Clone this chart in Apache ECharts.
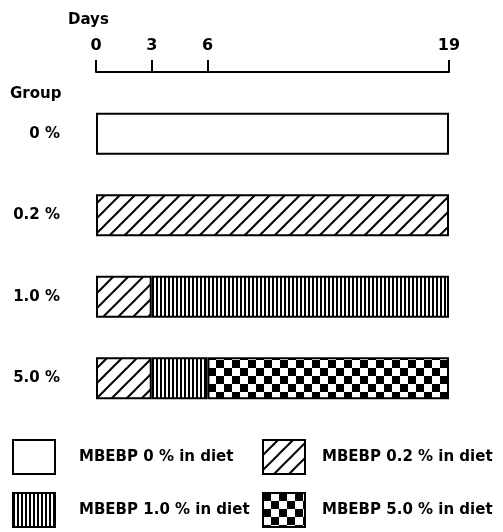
<!DOCTYPE html>
<html>
<head>
<meta charset="utf-8">
<script src="https://cdn.jsdelivr.net/npm/echarts@6/dist/echarts.min.js"></script>
<style>
html, body { margin: 0; background: #fff; }
#chart { width: 503px; height: 532px; }
</style>
</head>
<body>
<div id="chart"></div>
<script>
var groups = ['0 %', '0.2 %', '1.0 %', '5.0 %'];
var dayTicks = [0, 3, 6, 19];
// days on each diet per group, stacked left to right
var diet0 = [19, null, null, null];
var diet02 = [null, 19, 3, 3];
var diet10 = [null, null, 16, 3];
var diet50 = [null, null, null, 13];
var dietNames = ['MBEBP 0 % in diet', 'MBEBP 0.2 % in diet', 'MBEBP 1.0 % in diet', 'MBEBP 5.0 % in diet'];

var ink = '#000';
var font = 'DejaVu Sans';

function tile(w, h, draw) {
    var c = document.createElement('canvas');
    c.width = w;
    c.height = h;
    var ctx = c.getContext('2d');
    ctx.fillStyle = '#fff';
    ctx.fillRect(0, 0, w, h);
    ctx.fillStyle = ink;
    ctx.strokeStyle = ink;
    draw(ctx);
    return { image: c, repeat: 'repeat' };
}

// diagonal hatch  ////
var hatch = tile(15, 15, function(ctx) {
    ctx.lineWidth = 2;
    for (var k = 0; k <= 2; k++) {
        ctx.beginPath();
        ctx.moveTo(-5, 15 * k + 5);
        ctx.lineTo(20, 15 * k - 20);
        ctx.stroke();
    }
});
// vertical lines
var vlines = tile(4, 4, function(ctx) {
    ctx.fillRect(0, 0, 2, 4);
});
// checkerboard
var checker = tile(16, 16, function(ctx) {
    ctx.fillRect(0, 0, 8, 8);
    ctx.fillRect(8, 8, 8, 8);
});

var textBase = { fontFamily: font, fontSize: 15, fontWeight: 'bold', color: ink };

function barSeries(name, data, color) {
    return {
        name: name,
        type: 'bar',
        stack: 'days',
        barWidth: 42,
        data: data,
        silent: true,
        itemStyle: { color: color, borderColor: ink, borderWidth: 2 },
        emphasis: { disabled: true }
    };
}

var chart = echarts.init(document.getElementById('chart'));
chart.setOption({
    animation: false,
    backgroundColor: '#fff',
    title: [
        { text: 'Days', left: 68, top: 13, padding: 0, textStyle: textBase },
        { text: 'Group', left: 10, top: 87, padding: 0, textStyle: textBase }
    ],
    grid: { left: 96, right: 54, top: 93, bottom: 113 },
    xAxis: {
        type: 'value',
        position: 'top',
        min: 0,
        max: 19,
        offset: 21,
        splitLine: { show: false },
        axisLine: { show: true, lineStyle: { color: ink, width: 2 } },
        axisTick: { show: true, customValues: dayTicks, length: 12, lineStyle: { color: ink, width: 2 } },
        axisLabel: Object.assign({}, textBase, { customValues: dayTicks, margin: 18, fontSize: 16 })
    },
    yAxis: {
        type: 'category',
        data: groups,
        inverse: true,
        axisLine: { show: false },
        axisTick: { show: false },
        axisLabel: Object.assign({ margin: 36 }, textBase)
    },
    legend: [
        {
            orient: 'vertical', left: 12, top: 439, padding: 0,
            itemWidth: 42, itemHeight: 34, itemGap: 17,
            icon: 'rect', selectedMode: false,
            data: [dietNames[0], dietNames[2]],
            itemStyle: { borderColor: ink, borderWidth: 2 },
            textStyle: Object.assign({ padding: [0, 0, 0, 19] }, textBase)
        },
        {
            orient: 'vertical', left: 262, top: 439, padding: 0,
            itemWidth: 42, itemHeight: 34, itemGap: 17,
            icon: 'rect', selectedMode: false,
            data: [dietNames[1], dietNames[3]],
            itemStyle: { borderColor: ink, borderWidth: 2 },
            textStyle: Object.assign({ padding: [0, 0, 0, 12] }, textBase)
        }
    ],
    series: [
        barSeries(dietNames[1], diet02, hatch),
        barSeries(dietNames[2], diet10, vlines),
        barSeries(dietNames[3], diet50, checker),
        barSeries(dietNames[0], diet0, '#fff')
    ]
});
</script>
</body>
</html>
